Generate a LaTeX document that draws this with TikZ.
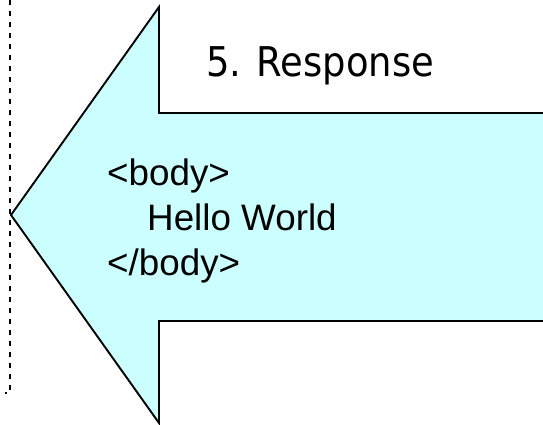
\documentclass[tikz,border=0pt]{standalone}
\usepackage{fontspec}
\setmainfont{Liberation Sans}
\newfontfamily\titlefont{DejaVu Sans Condensed}
\definecolor{arrowfill}{HTML}{CCFFFF}
\begin{document}
\begin{tikzpicture}[x=1pt,y=-1pt,
  arrowshape/.style={fill=arrowfill,draw=black,line width=1.9pt,line join=miter},
  guide/.style={draw=black,line width=1.9pt,dash pattern=on 5pt off 6pt},
  bodytext/.style={anchor=base west,inner sep=0pt,font=\fontsize{36.8}{44}\selectfont},
  titletext/.style={anchor=base west,inner sep=0pt,font=\titlefont\fontsize{41}{49}\selectfont}]
\useasboundingbox (0,0) rectangle (543,425);
\clip (0,0) rectangle (543,425);
\coordinate (tip) at (11,215);
\coordinate (htop) at (159,7);
\coordinate (ctop) at (159,113);
\coordinate (rtop) at (560,113);
\coordinate (rbot) at (560,321);
\coordinate (cbot) at (159,321);
\coordinate (hbot) at (159,423);
\path[arrowshape] (tip) -- (htop) -- (ctop) -- (rtop) -- (rbot) -- (cbot) -- (hbot) -- cycle;
\coordinate (gtop) at (10,0);
\coordinate (gbot) at (10,393);
\coordinate (gend) at (5,393);
\draw[guide] (gtop) -- (gbot) -- (gend);
\node[titletext] (title) at (206,77) {5. Response};
\node[bodytext] (l1) at (107,185) {<body>};
\node[bodytext] (l2) at (147,230) {Hello World};
\node[bodytext] (l3) at (107,275) {</body>};
\end{tikzpicture}
\end{document}
